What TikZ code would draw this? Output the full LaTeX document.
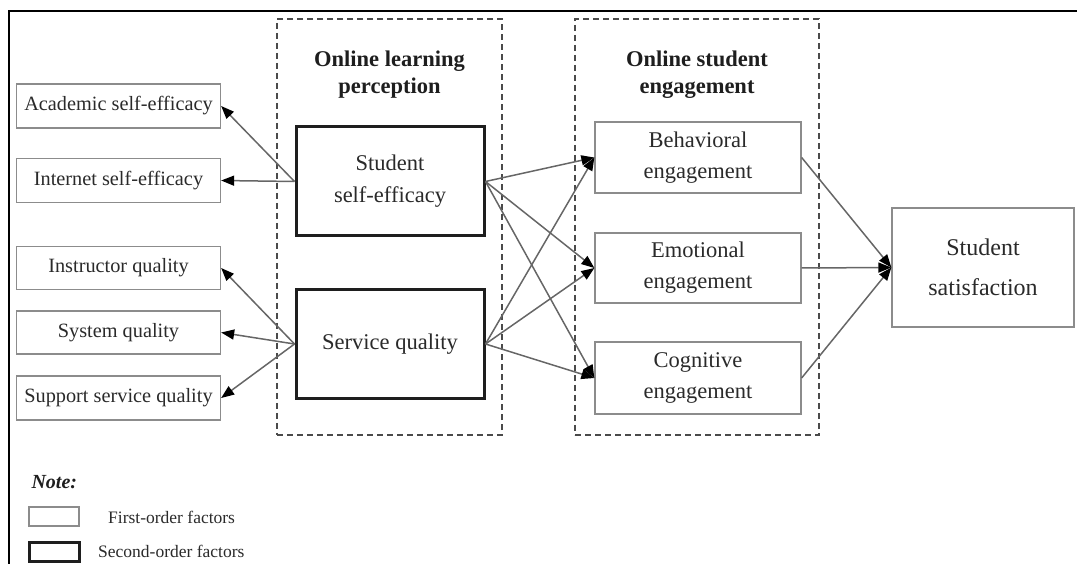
\documentclass[tikz,border=0pt]{standalone}
\usepackage{fontspec}
\setmainfont{Liberation Serif}
\usetikzlibrary{arrows.meta}
\definecolor{txt}{HTML}{2A2A2A}
\definecolor{thin}{HTML}{8C8C8C}
\definecolor{thick}{HTML}{1E1E1E}
\definecolor{conn}{HTML}{666666}
\definecolor{dash}{HTML}{4A4A4A}
\tikzset{
  firstorder/.style={draw=thin, line width=1.3pt, inner sep=0pt, text=txt, align=center},
  secondorder/.style={draw=thick, line width=3pt, inner sep=0pt, text=txt, align=center},
  group/.style={draw=dash, dashed, dash pattern=on 6pt off 4pt, line width=1.1pt, inner sep=0pt},
  grouptitle/.style={text=thick, align=center, font=\bfseries\fontsize{22.5}{27}\selectfont},
  leftfont/.style={font=\fontsize{20.3}{24}\selectfont},
  midfont/.style={font=\fontsize{22.5}{32}\selectfont},
  engfont/.style={font=\fontsize{22.5}{31}\selectfont},
  link/.style={draw=conn, line width=1.5pt, -{Triangle[length=13pt,width=10pt,color=black]}},
}
\begin{document}
\begin{tikzpicture}[x=1pt,y=-1pt]
\useasboundingbox (0,0) rectangle (1077,564);
% frame edges
\coordinate (ftl) at (9,11);
\coordinate (ftr) at (1077,11);
\coordinate (fbl) at (9,564);
\draw[black, line width=2.8pt] (ftr) -- (ftl) -- (fbl);

% dashed groups
\node[group, minimum width=225pt, minimum height=416pt] (g1) at (389.5,227) {};
\node[group, minimum width=244pt, minimum height=416pt] (g2) at (697,227) {};
\node[grouptitle] (t1) at (389.5,75) {Online learning\\perception};
\node[grouptitle] (t2) at (697,75) {Online student\\engagement};

% first-order factors on the left
\node[firstorder, leftfont, minimum width=204pt, minimum height=44pt] (acad) at (118.5,106) {Academic self-efficacy};
\node[firstorder, leftfont, minimum width=204pt, minimum height=44pt] (inet) at (118.5,180.5) {Internet self-efficacy};
\node[firstorder, leftfont, minimum width=204pt, minimum height=43pt] (instr) at (118.5,268) {Instructor quality};
\node[firstorder, leftfont, minimum width=204pt, minimum height=43pt] (sys) at (118.5,332.5) {System quality};
\node[firstorder, leftfont, minimum width=204pt, minimum height=44pt] (supp) at (118.5,398) {Support service quality};

% second-order factors
\node[secondorder, midfont, minimum width=188pt, minimum height=109pt] (sse) at (390,181.5) {Student\\self-efficacy};
\node[secondorder, midfont, minimum width=188pt, minimum height=108pt] (sq) at (390,344) {Service quality};

% engagement factors
\node[firstorder, engfont, minimum width=206pt, minimum height=71pt] (beh) at (698,157.5) {Behavioral\\engagement};
\node[firstorder, engfont, minimum width=206pt, minimum height=70pt] (emo) at (698,268) {Emotional\\engagement};
\node[firstorder, engfont, minimum width=206pt, minimum height=72pt] (cog) at (698,378) {Cognitive\\engagement};

% outcome
\node[firstorder, font=\fontsize{24}{40}\selectfont, minimum width=182pt, minimum height=119pt] (sat) at (983,267.5) {Student\\satisfaction};

% measurement paths
\draw[link] (sse.west) -- (acad.east);
\draw[link] (sse.west) -- (inet.east);
\draw[link] (sq.west) -- (instr.east);
\draw[link] (sq.west) -- (sys.east);
\draw[link] (sq.west) -- (supp.east);

% structural paths
\foreach \s in {sse,sq}{
  \foreach \t in {beh,emo,cog}{
    \draw[link] (\s.east) -- (\t.west);
  }
}
\foreach \s in {beh,emo,cog}{
  \draw[link] (\s.east) -- (sat.west);
}

% legend
\node[anchor=west, text=thick, font=\bfseries\itshape\fontsize{20}{24}\selectfont] (note) at (28,482) {Note:};
\node[draw=thin, line width=1.3pt, minimum width=50pt, minimum height=19pt, inner sep=0pt] (lg1) at (54,516.5) {};
\node[draw=thick, line width=3pt, minimum width=50pt, minimum height=19pt, inner sep=0pt] (lg2) at (54,551.5) {};
\node[anchor=west, text=txt, font=\fontsize{17.5}{20}\selectfont, inner sep=0pt] (lt1) at (108,517) {First-order factors};
\node[anchor=west, text=txt, font=\fontsize{17.5}{20}\selectfont, inner sep=0pt] (lt2) at (98,551) {Second-order factors};
\end{tikzpicture}
\end{document}
